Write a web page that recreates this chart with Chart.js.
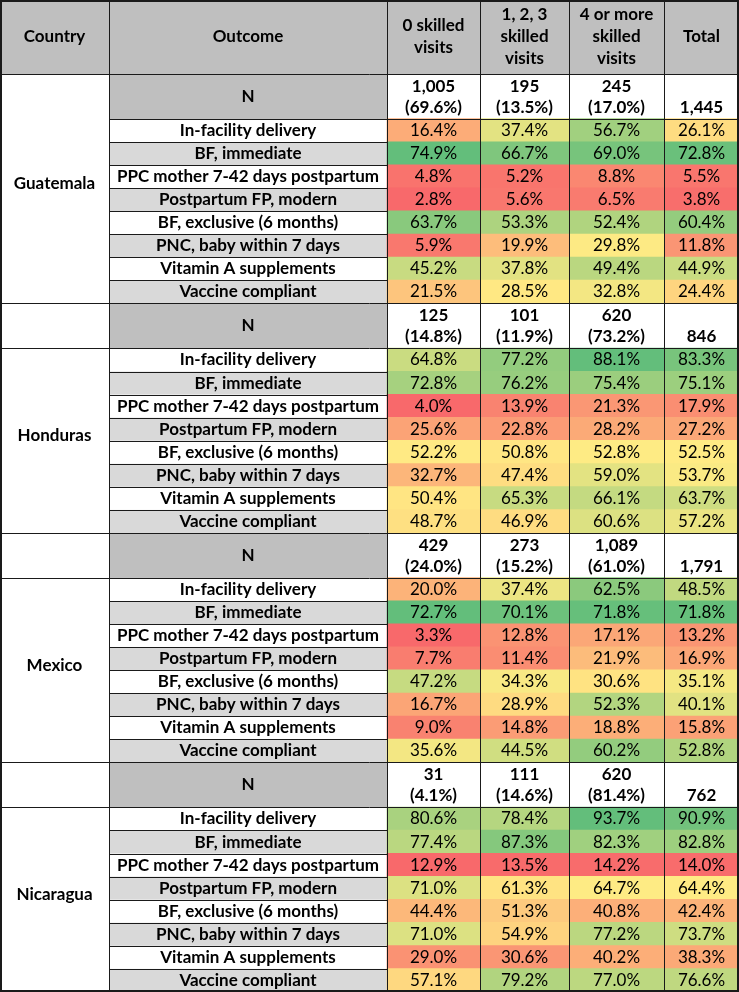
<!DOCTYPE html>
<html>
<head>
<meta charset="utf-8">
<script src="https://cdn.jsdelivr.net/npm/chart.js@4/dist/chart.umd.min.js"></script>
<style>
html,body{margin:0;padding:0;background:#ffffff;}
canvas{display:block;}
</style>
</head>
<body>
<canvas id="c" width="739" height="992"></canvas>
<script>
// ---------------- DATA ----------------
const columnHeaders = [['0 skilled', 'visits'], ['1, 2, 3', 'skilled', 'visits'], ['4 or more', 'skilled', 'visits'], ['Total']];
const countries = ['Guatemala', 'Honduras', 'Mexico', 'Nicaragua'];
const outcomes = [
  'In-facility delivery',
  'BF, immediate',
  'PPC mother 7-42 days postpartum',
  'Postpartum FP, modern',
  'BF, exclusive (6 months)',
  'PNC, baby within 7 days',
  'Vitamin A supplements',
  'Vaccine compliant'
];

const guatemalaN = [1005, 195, 245, 1445];
const guatemalaShare = [69.6, 13.5, 17.0];
const guatemalaValues = [
  [16.4, 37.4, 56.7, 26.1],
  [74.9, 66.7, 69.0, 72.8],
  [4.8, 5.2, 8.8, 5.5],
  [2.8, 5.6, 6.5, 3.8],
  [63.7, 53.3, 52.4, 60.4],
  [5.9, 19.9, 29.8, 11.8],
  [45.2, 37.8, 49.4, 44.9],
  [21.5, 28.5, 32.8, 24.4]
];

const hondurasN = [125, 101, 620, 846];
const hondurasShare = [14.8, 11.9, 73.2];
const hondurasValues = [
  [64.8, 77.2, 88.1, 83.3],
  [72.8, 76.2, 75.4, 75.1],
  [4.0, 13.9, 21.3, 17.9],
  [25.6, 22.8, 28.2, 27.2],
  [52.2, 50.8, 52.8, 52.5],
  [32.7, 47.4, 59.0, 53.7],
  [50.4, 65.3, 66.1, 63.7],
  [48.7, 46.9, 60.6, 57.2]
];

const mexicoN = [429, 273, 1089, 1791];
const mexicoShare = [24.0, 15.2, 61.0];
const mexicoValues = [
  [20.0, 37.4, 62.5, 48.5],
  [72.7, 70.1, 71.8, 71.8],
  [3.3, 12.8, 17.1, 13.2],
  [7.7, 11.4, 21.9, 16.9],
  [47.2, 34.3, 30.6, 35.1],
  [16.7, 28.9, 52.3, 40.1],
  [9.0, 14.8, 18.8, 15.8],
  [35.6, 44.5, 60.2, 52.8]
];

const nicaraguaN = [31, 111, 620, 762];
const nicaraguaShare = [4.1, 14.6, 81.4];
const nicaraguaValues = [
  [80.6, 78.4, 93.7, 90.9],
  [77.4, 87.3, 82.3, 82.8],
  [12.9, 13.5, 14.2, 14.0],
  [71.0, 61.3, 64.7, 64.4],
  [44.4, 51.3, 40.8, 42.4],
  [71.0, 54.9, 77.2, 73.7],
  [29.0, 30.6, 40.2, 38.3],
  [57.1, 79.2, 77.0, 76.6]
];

const blockN = [guatemalaN, hondurasN, mexicoN, nicaraguaN];
const blockShare = [guatemalaShare, hondurasShare, mexicoShare, nicaraguaShare];
const blockValues = [guatemalaValues, hondurasValues, mexicoValues, nicaraguaValues];

// ---------------- LAYOUT (scale units = table units) ----------------
const W = 739, H = 992;
const COL_X = [0, 109, 387, 480, 569, 664, 739];
const HEADER_H = 74;
const N_H = 45;
const ROW_H = 23.06;
const BLOCK_H = N_H + 8 * ROW_H;
const COUNTRY_SHIFT = -5;

const FONT = 'Lato, "Open Sans", "DejaVu Sans", sans-serif';
const FS = 17;
const HEADER_BG = '#bfbfbf';
const GRAY_ROW = '#d9d9d9';
const LINE = '#1a1a1a';

// ---------------- COLOR SCALE (Excel 3-colour: min red, 50th pct yellow, max green) -------------
const RED = [248, 105, 107], YEL = [255, 235, 132], GRN = [99, 190, 123];
function mix(a, b, t) {
  return 'rgb(' + a.map((v, i) => Math.round(v + (b[i] - v) * t)).join(',') + ')';
}
function makeScale(vals) {
  const s = vals.slice().sort((a, b) => a - b);
  const n = s.length;
  const min = s[0], max = s[n - 1];
  const p = (n - 1) * 0.5, lo = Math.floor(p), hi = Math.ceil(p);
  const mid = s[lo] + (s[hi] - s[lo]) * (p - lo);
  return v => {
    if (v <= mid) return mix(RED, YEL, mid === min ? 1 : (v - min) / (mid - min));
    return mix(YEL, GRN, max === mid ? 1 : (v - mid) / (max - mid));
  };
}

function blockTop(b) { return HEADER_H + b * BLOCK_H; }
function rowTop(b, r) { return blockTop(b) + N_H + r * ROW_H; }

// Build datasets (one per value column) from the arrays
const datasets = [];
for (let j = 0; j < 4; j++) {
  const data = [], colors = [];
  blockValues.forEach((vals, b) => {
    const scale = makeScale(vals.flat());
    vals.forEach((row, r) => {
      data.push({ x: [COL_X[j + 2], COL_X[j + 3]], y: rowTop(b, r) + ROW_H / 2, v: row[j] });
      colors.push(scale(row[j]));
    });
  });
  datasets.push({
    label: columnHeaders[j].join(' '),
    data,
    backgroundColor: colors,
    borderWidth: 0,
    barThickness: ROW_H + 0.6,
    grouped: false
  });
}

// ---------------- TABLE PLUGIN ----------------
const tablePlugin = {
  id: 'tablePlugin',
  beforeDatasetsDraw(chart) {
    const ctx = chart.ctx, xs = chart.scales.x, ys = chart.scales.y;
    const X = v => xs.getPixelForValue(v), Y = v => ys.getPixelForValue(v);
    const rect = (x0, y0, x1, y1, c) => { ctx.fillStyle = c; ctx.fillRect(X(x0), Y(y0), X(x1) - X(x0), Y(y1) - Y(y0)); };
    ctx.save();
    rect(0, 0, W, H, '#ffffff');
    rect(0, 0, W, HEADER_H, HEADER_BG);
    for (let b = 0; b < 4; b++) {
      rect(COL_X[1], blockTop(b), COL_X[2], blockTop(b) + N_H, HEADER_BG);
      for (let r = 0; r < 8; r++) {
        if (r % 2 === 1) rect(COL_X[1], rowTop(b, r), COL_X[2], rowTop(b, r) + ROW_H, GRAY_ROW);
      }
    }
    ctx.restore();
  },
  afterDatasetsDraw(chart) {
    const ctx = chart.ctx, xs = chart.scales.x, ys = chart.scales.y;
    const X = v => xs.getPixelForValue(v), Y = v => ys.getPixelForValue(v);
    ctx.save();
    const hline = (x0, x1, y, w) => {
      ctx.lineWidth = w; ctx.strokeStyle = LINE; ctx.beginPath();
      const yy = Math.round(Y(y)) + (w % 2 ? 0.5 : 0);
      ctx.moveTo(X(x0), yy); ctx.lineTo(X(x1), yy); ctx.stroke();
    };
    const vline = (x, y0, y1, w) => {
      ctx.lineWidth = w; ctx.strokeStyle = LINE; ctx.beginPath();
      const xx = Math.round(X(x)) + (w % 2 ? 0.5 : 0);
      ctx.moveTo(xx, Y(y0)); ctx.lineTo(xx, Y(y1)); ctx.stroke();
    };
    for (let k = 1; k < COL_X.length - 1; k++) vline(COL_X[k], 0, H, 1);
    hline(0, W, HEADER_H, 1);
    for (let b = 0; b < 4; b++) {
      const t = blockTop(b);
      if (b > 0) hline(0, W, t, 1);
      hline(b === 0 ? COL_X[1] : 0, W, t + N_H, 1);
      for (let r = 1; r < 8; r++) hline(COL_X[1], COL_X[2], rowTop(b, r), 1);
    }
    ctx.lineWidth = 2; ctx.strokeStyle = LINE;
    ctx.strokeRect(X(0) + 1, Y(0) + 1, X(W) - X(0) - 2, Y(H) - Y(0) - 2);

    ctx.fillStyle = '#000000';
    ctx.textAlign = 'center';
    ctx.textBaseline = 'middle';
    const cx = k => (X(COL_X[k]) + X(COL_X[k + 1])) / 2;
    ctx.font = 'bold ' + FS + 'px ' + FONT;
    ctx.fillText('Country', cx(0), Y(HEADER_H / 2));
    ctx.fillText('Outcome', cx(1), Y(HEADER_H / 2));
    columnHeaders.forEach((lines, j) => {
      const lh = 22;
      const start = HEADER_H / 2 - (lines.length - 1) * lh / 2;
      lines.forEach((ln, i) => ctx.fillText(ln, cx(j + 2), Y(start + i * lh)));
    });
    for (let b = 0; b < 4; b++) {
      const t = blockTop(b);
      ctx.font = 'bold ' + FS + 'px ' + FONT;
      const cTop = b === 0 ? t : t + N_H;
      ctx.fillText(countries[b], cx(0), Y((cTop + t + BLOCK_H) / 2 + COUNTRY_SHIFT));
      ctx.fillText('N', cx(1), Y(t + N_H / 2));
      for (let j = 0; j < 4; j++) {
        const nStr = blockN[b][j].toLocaleString('en-US');
        if (j < 3) {
          ctx.fillText(nStr, cx(j + 2), Y(t + 12.5));
          ctx.fillText('(' + blockShare[b][j].toFixed(1) + '%)', cx(j + 2), Y(t + 33.5));
        } else {
          ctx.fillText(nStr, cx(j + 2), Y(t + 33.5));
        }
      }
      for (let r = 0; r < 8; r++) {
        const yc = Y(rowTop(b, r) + ROW_H / 2);
        ctx.font = 'bold ' + FS + 'px ' + FONT;
        ctx.fillText(outcomes[r], cx(1), yc);
        ctx.font = FS + 'px ' + FONT;
        for (let j = 0; j < 4; j++) {
          ctx.fillText(blockValues[b][r][j].toFixed(1) + '%', cx(j + 2), yc);
        }
      }
    }
    ctx.restore();
  }
};

new Chart(document.getElementById('c'), {
  type: 'bar',
  data: { datasets },
  options: {
    indexAxis: 'y',
    responsive: false,
    animation: false,
    devicePixelRatio: 1,
    layout: { padding: 0 },
    scales: {
      x: { type: 'linear', min: 0, max: W, display: false, offset: false, grace: 0 },
      y: { type: 'linear', min: 0, max: H, reverse: true, display: false, offset: false, grace: 0 }
    },
    plugins: { legend: { display: false }, tooltip: { enabled: false } }
  },
  plugins: [tablePlugin]
});
</script>
</body>
</html>
